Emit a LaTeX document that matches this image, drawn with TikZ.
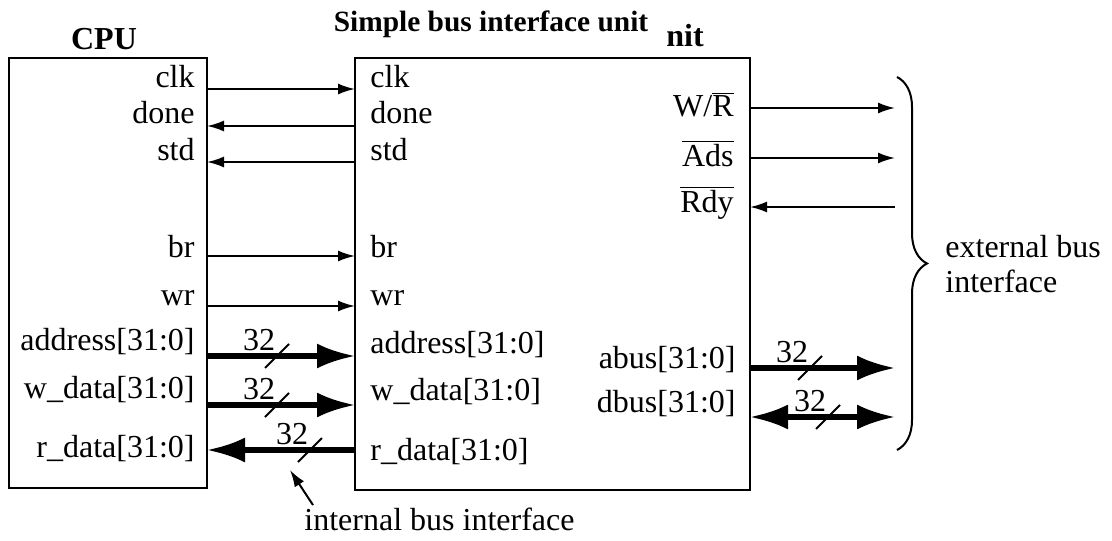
\documentclass[tikz,border=0pt]{standalone}
\usepackage{fontspec}
\setmainfont{Liberation Serif}
\usetikzlibrary{arrows.meta,decorations.pathreplacing}
\newcommand{\ovl}[1]{$\overline{\mbox{#1}}$}

\begin{document}
\begin{tikzpicture}[x=0.5pt,y=-0.5pt,
  font=\fontsize{16}{19}\selectfont,
  block/.style={draw,line width=1.2pt,inner sep=0pt,outer sep=0pt},
  lbl/.style={inner sep=1pt},
  sig/.style={line width=1pt,-{Latex[length=8.5pt,width=5.5pt]}},
  bus/.style={line width=2.6pt,-{Latex[length=19pt,width=12.5pt]}},
  busboth/.style={line width=2.6pt,{Latex[length=19pt,width=12.5pt]}-{Latex[length=19pt,width=12.5pt]}},
  tick/.style={line width=1pt},
  head/.style={font=\fontsize{16}{19}\selectfont\bfseries}]
\useasboundingbox (0,0) rectangle (1112,540);

\node[block,minimum width=99pt,minimum height=215pt] (cpu) at (108,273) {};
\node[block,minimum width=197.5pt,minimum height=216pt] (biu) at (552.5,274) {};

\node[head,anchor=base] (cpuname) at (104,50) {CPU};
\node[head,anchor=base] (nitpart) at (685,47) {nit};
\node[head,anchor=base,font=\fontsize{14.7}{17}\selectfont\bfseries] (title) at (491,32) {Simple bus interface unit};

% CPU side
\node[lbl,anchor=base east] (cclk) at (197,88) {clk};
\node[lbl,anchor=base east] (cdone) at (197,123) {done};
\node[lbl,anchor=base east] (cstd) at (197,160) {std};
\node[lbl,anchor=base east] (cbr) at (197,257) {br};
\node[lbl,anchor=base east] (cwr) at (197,305) {wr};
\node[lbl,anchor=base east] (caddr) at (197,350) {address[31:0]};
\node[lbl,anchor=base east] (cwdata) at (197,398) {w\_data[31:0]};
\node[lbl,anchor=base east] (crdata) at (197,457) {r\_data[31:0]};

% unit, internal side
\node[lbl,anchor=base west] (uclk) at (368,88) {clk};
\node[lbl,anchor=base west] (udone) at (368,123) {done};
\node[lbl,anchor=base west] (ustd) at (368,160) {std};
\node[lbl,anchor=base west] (ubr) at (368,257) {br};
\node[lbl,anchor=base west] (uwr) at (368,305) {wr};
\node[lbl,anchor=base west] (uaddr) at (368,353) {address[31:0]};
\node[lbl,anchor=base west] (uwdata) at (368,400) {w\_data[31:0]};
\node[lbl,anchor=base west] (urdata) at (368,460) {r\_data[31:0]};

% unit, external side
\node[lbl,anchor=base east] (uwr2) at (736,117) {W/\ovl{R}};
\node[lbl,anchor=base east] (uads) at (736,166) {\ovl{Ads}};
\node[lbl,anchor=base east] (urdy) at (736,212) {\ovl{Rdy}};
\node[lbl,anchor=base east] (uabus) at (738,368) {abus[31:0]};
\node[lbl,anchor=base east] (udbus) at (738,412) {dbus[31:0]};

\draw[sig] (cpu.east |- 0,89) -- (biu.west |- 0,89);
\draw[sig] (biu.west |- 0,126) -- (cpu.east |- 0,126);
\draw[sig] (biu.west |- 0,162) -- (cpu.east |- 0,162);
\draw[sig] (cpu.east |- 0,256) -- (biu.west |- 0,256);
\draw[sig] (cpu.east |- 0,306) -- (biu.west |- 0,306);
\draw[bus] (cpu.east |- 0,356) -- (biu.west |- 0,356);
\draw[bus] (cpu.east |- 0,405) -- (biu.west |- 0,405);
\draw[bus] (biu.west |- 0,450) -- (cpu.east |- 0,450);

\coordinate (extR) at (895,0);
\draw[sig] (biu.east |- 0,108) -- (extR |- 0,108);
\draw[sig] (biu.east |- 0,158) -- (extR |- 0,158);
\draw[sig] (extR |- 0,207) -- (biu.east |- 0,207);
\draw[bus] (biu.east |- 0,368) -- (extR |- 0,368);
\draw[busboth] (biu.east |- 0,417) -- (extR |- 0,417);

% bus widths
\coordinate (t1) at (277,356);
\coordinate (t2) at (277,405);
\coordinate (t3) at (310,450);
\coordinate (t4) at (810,368);
\coordinate (t5) at (828,417);
\foreach \t in {t1,t2,t3,t4,t5}{
  \draw[tick] ([shift={(-12,12)}]\t) -- ([shift={(12,-12)}]\t);
  \node[lbl] (w\t) at ([shift={(-18,-16)}]\t) {32};
}

\coordinate (braceT) at (897,77);
\coordinate (braceB) at (897,450);
\draw[decorate,decoration={brace,amplitude=15pt},line width=1pt] (braceT) -- (braceB);
\node[lbl,anchor=base west] (ext1) at (943,257) {external bus};
\node[lbl,anchor=base west] (ext2) at (943,292) {interface};

\node[lbl,anchor=base west] (intl) at (302,530) {internal bus interface};
\coordinate (rtip) at (290,470);
\draw[sig] ([xshift=5.5pt]intl.north west) -- (rtip);
\end{tikzpicture}
\end{document}
